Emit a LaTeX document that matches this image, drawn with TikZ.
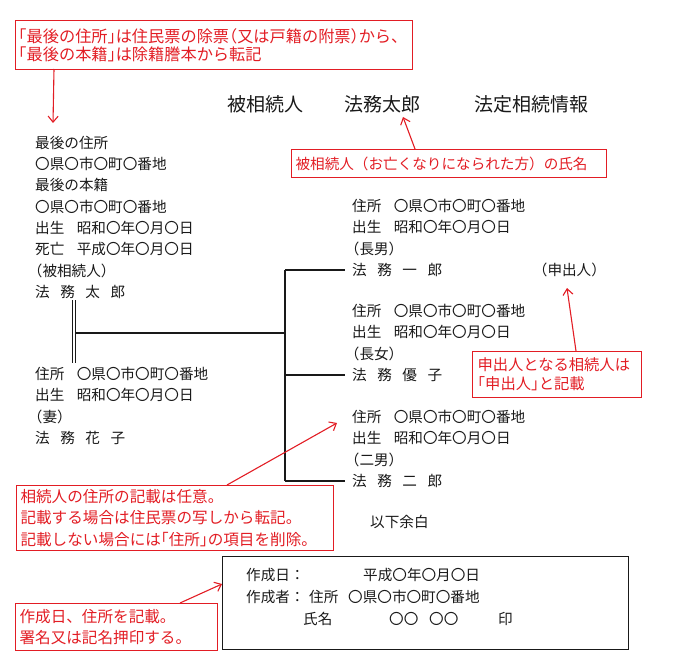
\documentclass[tikz,border=0pt]{standalone}
\usepackage{fontspec}
\setmainfont{Noto Sans CJK JP}
\newfontfamily\hf[RawFeature=+halt]{Noto Sans CJK JP}
\usetikzlibrary{arrows.meta}
\definecolor{note}{RGB}{226,29,36}
\definecolor{ink}{RGB}{25,25,25}
\newcommand{\hpL}{{\hf （}}
\newcommand{\hpR}{{\hf ）}}
\newcommand{\hbL}{{\hf 「}}
\newcommand{\hbR}{{\hf 」}}
\newcommand{\gp}{\hspace{0.72em}}
\newcommand{\gq}{\hspace{0.85em}}
\begin{document}
\begin{tikzpicture}[x=1pt,y=-1pt,
  txt/.style={anchor=base west,inner sep=0pt,align=left,text=ink,font=\fontsize{14.6}{21.3}\selectfont},
  ttl/.style={anchor=base west,inner sep=0pt,text=ink,font=\fontsize{19}{22}\selectfont},
  note/.style={draw=note,line width=1.1pt,text=note,anchor=north west,align=left,inner ysep=0pt},
  tree/.style={draw=ink,line width=1.2pt},
  arr/.style={draw=note,line width=1.1pt,-{Straight Barb[length=6pt,width=10pt,line width=1.1pt]}}]
\useasboundingbox (0,0) rectangle (679,663);

% top note
\node[note,text width=391pt,inner xsep=3pt,minimum height=49pt,font=\fontsize{16.2}{18}\selectfont] (n1) at (15,20)
  {\hbL 最後の住所\hbR は住民票の除票\hpL 又は戸籍の附票\hpR から、\\\hbL 最後の本籍\hbR は除籍謄本から転記};
\coordinate (a1s) at (54,69);
\coordinate (a1e) at (53,123);
\draw[arr] (a1s) -- (a1e);

% title
\node[ttl] (t1) at (227,112) {被相続人};
\node[ttl] (t2) at (344,112) {法務太郎};
\node[ttl] (t3) at (474,112) {法定相続情報};

% note 2
\node[note,text width=307pt,inner xsep=4pt,minimum height=28pt,font=\fontsize{14.6}{18}\selectfont] (n2) at (291,149)
  {被相続人（お亡くなりになられた方）の氏名};
\coordinate (a2s) at (415,149);
\coordinate (a2e) at (403,117);
\draw[arr] (a2s) -- (a2e);

% deceased (base anchor = baseline of last line)
\node[txt] (dec) at (35,297.3)
  {最後の住所\\〇県〇市〇町〇番地\\最後の本籍\\〇県〇市〇町〇番地\\出生\gq 昭和〇年〇月〇日\\死亡\gq 平成〇年〇月〇日\\\hpL 被相続人\hpR\\法\gp 務\gp 太\gp 郎};

% spouse
\node[txt] (sp) at (35,443.3)
  {住所\gq 〇県〇市〇町〇番地\\出生\gq 昭和〇年〇月〇日\\\hpL 妻\hpR\\法\gp 務\gp 花\gp 子};

% children
\node[txt] (c1) at (352,275.3)
  {住所\gq 〇県〇市〇町〇番地\\出生\gq 昭和〇年〇月〇日\\\hpL 長男\hpR\\法\gp 務\gp 一\gp 郎};
\node[txt] (c2) at (352,380.3)
  {住所\gq 〇県〇市〇町〇番地\\出生\gq 昭和〇年〇月〇日\\\hpL 長女\hpR\\法\gp 務\gp 優\gp 子};
\node[txt] (c3) at (352,486.3)
  {住所\gq 〇県〇市〇町〇番地\\出生\gq 昭和〇年〇月〇日\\\hpL 二男\hpR\\法\gp 務\gp 二\gp 郎};

\node[txt] (appl) at (540,275.3) {\hpL 申出人\hpR};

% tree
\coordinate (m1) at (73.8,300);
\coordinate (m2) at (73.8,363);
\coordinate (h1) at (75.5,333);
\coordinate (h2) at (285,333);
\coordinate (v1) at (285,270);
\coordinate (v2) at (285,481);
\coordinate (b1) at (345,270);
\coordinate (v3) at (285,375);
\coordinate (b2) at (345,375);
\coordinate (b3) at (345,481);
\draw[draw=ink,double=white,double distance=2.2pt,line width=0.9pt] (m1) -- (m2);
\draw[tree] (h1) -- (h2);
\draw[tree] (v1) -- (v2);
\draw[tree] (v1) -- (b1);
\draw[tree] (v3) -- (b2);
\draw[tree] (v2) -- (b3);

% note 3
\node[note,text width=159pt,inner xsep=5pt,minimum height=46pt,font=\fontsize{15.3}{19}\selectfont] (n3) at (472,351)
  {申出人となる相続人は\\\hbL 申出人\hbR と記載};
\coordinate (a3s) at (576,351);
\coordinate (a3e) at (567,288);
\draw[arr] (a3s) -- (a3e);

% note 4
\node[note,text width=309pt,inner xsep=4pt,minimum height=65pt,font=\fontsize{15.6}{21.5}\selectfont] (n4) at (16,485)
  {相続人の住所の記載は任意。\\記載する場合は住民票の写しから転記。\\記載しない場合には\hbL 住所\hbR の項目を削除。};
\coordinate (a4s) at (227,485);
\coordinate (a4e) at (337,423);
\draw[arr] (a4s) -- (a4e);

\node[txt] (rest) at (370,527.3) {以下余白};

% signature box
\node[draw=ink,line width=1.2pt,anchor=north west,minimum width=406pt,minimum height=93pt,inner sep=0pt] (sig) at (222,556) {};
\node[txt] (s1) at (246,580.3) {作成日：};
\node[txt] (s2) at (363,580.3) {平成〇年〇月〇日};
\node[txt] (s3) at (246,602.3) {作成者：};
\node[txt] (s4) at (309,602.3) {住所};
\node[txt] (s5) at (348,602.3) {〇県〇市〇町〇番地};
\node[txt] (s6) at (303,624.3) {氏名};
\node[txt] (s7) at (389,624.3) {〇〇};
\node[txt] (s8) at (429,624.3) {〇〇};
\node[txt] (s9) at (498,624.3) {印};

% note 5
\node[note,text width=194pt,inner xsep=4pt,minimum height=47pt,font=\fontsize{15.6}{20.5}\selectfont] (n5) at (15,603)
  {作成日、住所を記載。\\署名又は記名押印する。};
\coordinate (a5s) at (180,603);
\coordinate (a5e) at (222,584);
\draw[arr] (a5s) -- (a5e);
\end{tikzpicture}
\end{document}
